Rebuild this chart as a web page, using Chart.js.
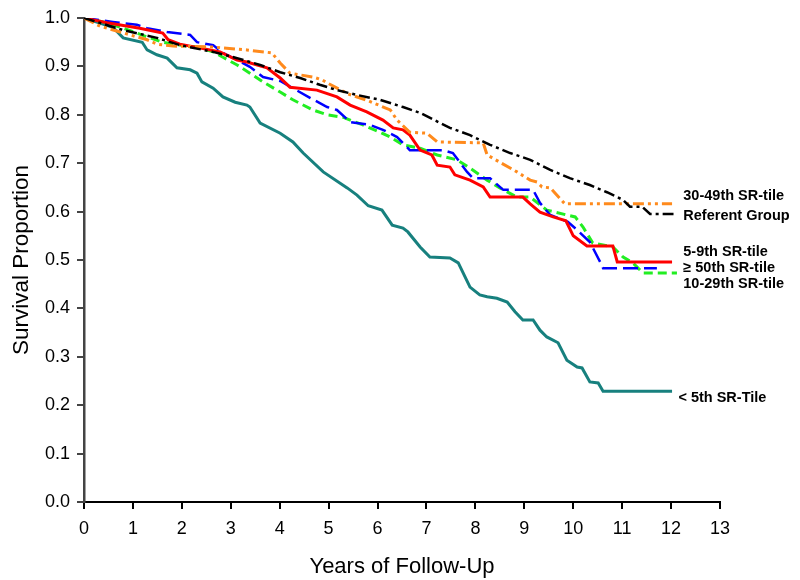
<!DOCTYPE html>
<html>
<head>
<meta charset="utf-8">
<script src="https://cdn.jsdelivr.net/npm/chart.js@4/dist/chart.umd.min.js"></script>
<style>
  html, body { margin: 0; padding: 0; background: #fff; }
  #wrap { width: 800px; height: 580px; }
</style>
</head>
<body>
<div id="wrap"><canvas id="myChart" width="800" height="580"></canvas></div>
<script>
// survival curves, years of follow-up vs survival proportion
const refYears = [0, 0.8, 1.49, 1.96, 2.64, 3.13, 3.6, 4.01, 4.42, 4.82, 5.17, 5.58, 6.05, 6.52, 6.87, 7.48, 7.89, 8.3, 8.71, 9.12, 9.53, 9.93, 10.34, 10.69, 11.02, 11.16, 11.41, 11.57, 12.05];
const refSurv = [1.0, 0.975, 0.959, 0.944, 0.93, 0.917, 0.903, 0.888, 0.876, 0.862, 0.851, 0.841, 0.831, 0.816, 0.804, 0.773, 0.758, 0.738, 0.721, 0.707, 0.686, 0.669, 0.655, 0.64, 0.624, 0.61, 0.61, 0.595, 0.595];

const p30Years = [0, 0.33, 0.74, 1.29, 1.49, 1.82, 2.64, 3.33, 3.84, 4.01, 4.21, 4.68, 4.87, 4.97, 5.4, 5.81, 6.26, 6.4, 6.66, 7.01, 7.22, 8.16, 8.24, 8.5, 8.85, 9.12, 9.26, 9.36, 9.53, 9.83, 12.02];
const p30Surv = [1.0, 0.983, 0.971, 0.955, 0.946, 0.942, 0.94, 0.934, 0.928, 0.907, 0.886, 0.878, 0.872, 0.866, 0.843, 0.829, 0.81, 0.789, 0.764, 0.762, 0.744, 0.742, 0.717, 0.702, 0.682, 0.665, 0.661, 0.651, 0.649, 0.616, 0.616];

const p5Years = [0, 0.47, 1.14, 1.61, 1.72, 1.96, 2.78, 3.13, 3.33, 3.74, 4.01, 4.21, 4.76, 5.17, 5.44, 5.78, 6.11, 6.32, 6.52, 6.66, 6.87, 7.11, 7.22, 7.48, 7.58, 7.89, 8.16, 8.3, 8.97, 9.12, 9.32, 9.59, 9.85, 10.0, 10.28, 10.81, 10.9, 12.02];
const p5Surv = [1.0, 0.99, 0.979, 0.969, 0.955, 0.946, 0.93, 0.913, 0.909, 0.897, 0.876, 0.857, 0.851, 0.837, 0.82, 0.806, 0.789, 0.773, 0.769, 0.758, 0.727, 0.717, 0.696, 0.692, 0.676, 0.665, 0.651, 0.63, 0.63, 0.616, 0.599, 0.589, 0.581, 0.55, 0.529, 0.529, 0.496, 0.496];

const p50Years = [0, 0.59, 1.08, 1.29, 1.7, 2.17, 2.31, 2.64, 2.84, 3.13, 3.39, 3.66, 4.01, 4.27, 4.62, 4.97, 5.17, 5.44, 5.85, 6.11, 6.4, 6.66, 7.34, 7.54, 7.83, 7.95, 8.3, 8.57, 9.18, 9.32, 9.53, 9.89, 10.08, 10.34, 10.55, 10.61, 11.71];
const p50Surv = [1.0, 0.992, 0.986, 0.979, 0.971, 0.965, 0.95, 0.944, 0.928, 0.913, 0.899, 0.878, 0.87, 0.855, 0.835, 0.816, 0.81, 0.785, 0.779, 0.769, 0.754, 0.727, 0.727, 0.721, 0.682, 0.669, 0.669, 0.645, 0.645, 0.618, 0.593, 0.579, 0.562, 0.537, 0.496, 0.483, 0.483];

const p10Years = [0, 0.39, 0.8, 1.29, 1.61, 1.96, 2.31, 2.64, 2.84, 3.13, 3.39, 3.66, 4.01, 4.27, 4.68, 4.97, 5.29, 5.7, 6.05, 6.26, 6.52, 6.87, 7.22, 7.62, 7.89, 8.24, 8.5, 8.85, 9.12, 9.46, 9.87, 10.04, 10.2, 10.4, 10.81, 11.02, 11.22, 11.43, 12.12];
const p10Surv = [1.0, 0.992, 0.979, 0.961, 0.95, 0.944, 0.94, 0.93, 0.919, 0.903, 0.886, 0.868, 0.847, 0.831, 0.81, 0.8, 0.795, 0.779, 0.764, 0.754, 0.738, 0.731, 0.717, 0.707, 0.69, 0.665, 0.649, 0.63, 0.63, 0.603, 0.593, 0.589, 0.568, 0.535, 0.527, 0.506, 0.494, 0.473, 0.473];

const lowYears = [0, 0.59, 0.8, 1.19, 1.29, 1.49, 1.7, 1.9, 2.17, 2.31, 2.41, 2.64, 2.84, 3.09, 3.33, 3.39, 3.6, 4.01, 4.27, 4.48, 4.89, 5.38, 5.58, 5.81, 6.09, 6.3, 6.52, 6.62, 6.87, 7.07, 7.48, 7.65, 7.89, 8.09, 8.24, 8.44, 8.65, 8.81, 8.97, 9.18, 9.32, 9.46, 9.69, 9.87, 10.08, 10.18, 10.34, 10.51, 10.61, 12.02];
const lowSurv = [1.0, 0.981, 0.959, 0.95, 0.934, 0.924, 0.917, 0.897, 0.893, 0.886, 0.868, 0.855, 0.837, 0.826, 0.82, 0.816, 0.783, 0.762, 0.744, 0.721, 0.682, 0.649, 0.634, 0.612, 0.603, 0.572, 0.566, 0.558, 0.527, 0.506, 0.504, 0.494, 0.444, 0.428, 0.424, 0.421, 0.413, 0.393, 0.376, 0.376, 0.355, 0.341, 0.329, 0.293, 0.279, 0.277, 0.248, 0.246, 0.229, 0.229];

const curveLabels = ['30-49th SR-tile', 'Referent Group', '5-9th SR-tile', '\u2265 50th SR-tile', '10-29th SR-tile', '< 5th SR-Tile'];
const labelX = [12.25, 12.25, 12.25, 12.25, 12.25, 12.15];
const labelY = [0.632, 0.59, 0.517, 0.484, 0.45, 0.215];

function pts(xs, ys) {
    return xs.map((x, i) => ({x: x, y: ys[i]}));
}

const data = {
    datasets: [
        {
            label: 'Referent Group',
            data: pts(refYears, refSurv),
            borderColor: '#000000',
            borderWidth: 2.5,
            borderDash: [11, 4, 3, 4],
        },
        {
            label: '30-49th SR-tile',
            data: pts(p30Years, p30Surv),
            borderColor: '#ff8a1c',
            borderWidth: 3,
            borderDash: [11, 4, 3, 4, 3, 4],
        },
        {
            label: '5-9th SR-tile',
            data: pts(p5Years, p5Surv),
            borderColor: '#ff0000',
            borderWidth: 3,
        },
        {
            label: '\u2265 50th SR-tile',
            data: pts(p50Years, p50Surv),
            borderColor: '#0000ff',
            borderWidth: 2.5,
            borderDash: [15, 6],
        },
        {
            label: '10-29th SR-tile',
            data: pts(p10Years, p10Surv),
            borderColor: '#22ee22',
            borderWidth: 3,
            borderDash: [9, 5],
        },
        {
            label: '< 5th SR-Tile',
            data: pts(lowYears, lowSurv),
            borderColor: '#17807e',
            borderWidth: 3,
        }
    ]
};

const curveText = {
    id: 'curveText',
    afterDatasetsDraw(chart) {
        const ctx = chart.ctx;
        const xs = chart.scales.x, ys = chart.scales.y;
        ctx.save();
        ctx.font = 'bold 14.5px "Liberation Sans", Arial, sans-serif';
        ctx.fillStyle = '#000';
        ctx.textBaseline = 'middle';
        ctx.textAlign = 'left';
        curveLabels.forEach((t, i) => {
            ctx.fillText(t, xs.getPixelForValue(labelX[i]), ys.getPixelForValue(labelY[i]));
        });
        ctx.restore();
    }
};

const config = {
    type: 'line',
    data: data,
    options: {
        responsive: false,
        animation: false,
        layout: {padding: {left: 0, top: 18, right: 80, bottom: 0}},
        elements: {
            point: {radius: 0},
            line: {tension: 0, borderCapStyle: 'butt', fill: false}
        },
        plugins: {
            legend: {display: false},
            tooltip: {enabled: false}
        },
        scales: {
            x: {
                type: 'linear',
                min: 0,
                max: 13,
                ticks: {
                    stepSize: 1,
                    color: '#000',
                    padding: 9,
                    font: {family: '"Liberation Sans", Arial', size: 18}
                },
                grid: {display: true, drawOnChartArea: false, drawTicks: true, tickLength: 7, color: '#000', lineWidth: 2},
                border: {color: '#000', width: 2},
                title: {
                    display: true,
                    text: 'Years of Follow-Up',
                    color: '#000',
                    padding: {top: 0, bottom: 0},
                    font: {family: '"Liberation Sans", Arial', size: 22}
                },
                afterFit: (s) => { s.height = 78; }
            },
            y: {
                min: 0,
                max: 1,
                ticks: {
                    stepSize: 0.1,
                    color: '#000',
                    padding: 7,
                    font: {family: '"Liberation Sans", Arial', size: 18},
                    callback: (v) => v.toFixed(1)
                },
                grid: {display: true, drawOnChartArea: false, drawTicks: true, tickLength: 7, color: '#444', lineWidth: 2},
                border: {color: '#444', width: 2.5},
                title: {
                    display: true,
                    text: 'Survival Proportion',
                    color: '#000',
                    padding: {top: 8, bottom: 0},
                    font: {family: '"Liberation Sans", Arial', size: 22.5}
                },
                afterFit: (s) => { s.width = 84; }
            }
        }
    },
    plugins: [curveText]
};

new Chart(
    document.getElementById('myChart'),
    config
);
</script>
</body>
</html>
